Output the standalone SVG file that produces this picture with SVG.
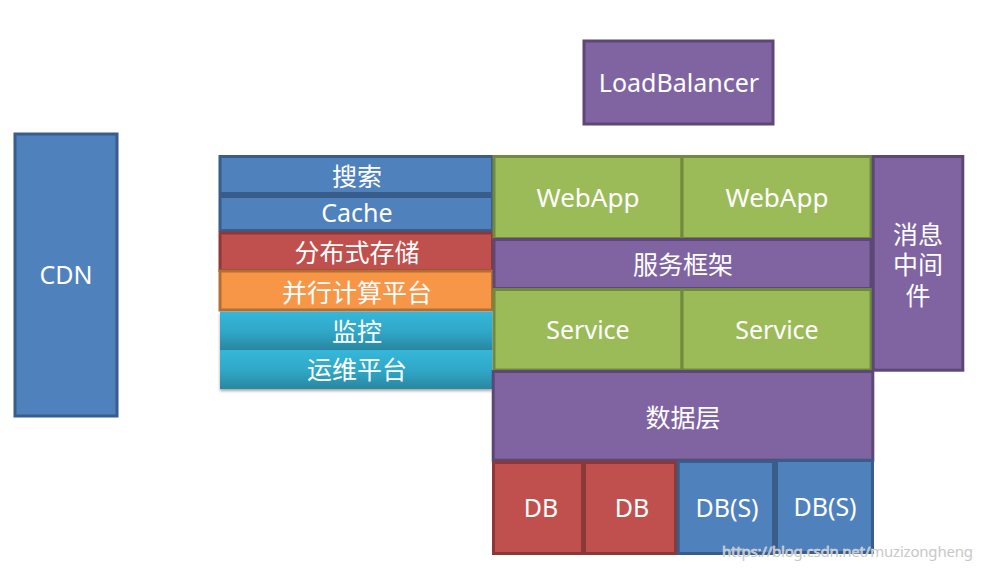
<svg xmlns="http://www.w3.org/2000/svg" width="982" height="569" viewBox="0 0 982 569">
<style>
.b{fill:#4F81BD;stroke:#385D8A;stroke-width:3}
.r{fill:#C0504D;stroke:#8C3836;stroke-width:3}
.g{fill:#9BBB59;stroke:#71893F;stroke-width:3}
.p{fill:#8064A2;stroke:#5C4776;stroke-width:3}
.o{fill:#F79646;stroke:#B66D31;stroke-width:3}
.t{fill:url(#teal)}
text{font-family:"Noto Sans","Noto Sans CJK SC",sans-serif;font-size:25px;fill:#fff;text-anchor:middle}
.wm{font-size:15px;fill:#c8c8c8;text-anchor:start;stroke:#fff;stroke-width:0.5;paint-order:stroke}
</style>
<defs>
<linearGradient id="teal" x1="0" y1="0" x2="0" y2="1">
<stop offset="0" stop-color="#36B7DA"/>
<stop offset="0.55" stop-color="#2FA6C6"/>
<stop offset="1" stop-color="#2A87A0"/>
</linearGradient>
<filter id="sh" x="-5%" y="-10%" width="110%" height="130%">
<feDropShadow dx="0" dy="2" stdDeviation="1.5" flood-color="#000" flood-opacity="0.35"/>
</filter>
</defs>
<g id="cdn"><rect class="b" x="15" y="134" width="102" height="282"/><text x="66" y="284">CDN</text></g>
<g id="loadbalancer"><rect class="p" x="584" y="41" width="189" height="83"/><text x="679" y="92">LoadBalancer</text></g>
<g id="search"><rect class="b" x="220" y="156.5" width="272.5" height="37"/><text x="357" y="185.5">搜索</text></g>
<g id="cache"><rect class="b" x="220" y="196.5" width="272.5" height="34"/><text x="357" y="222">Cache</text></g>
<g id="dist-storage"><rect class="r" x="220" y="233" width="272.5" height="37.5"/><text x="357" y="262">分布式存储</text></g>
<g id="parallel"><rect class="o" x="220" y="271" width="272.5" height="39"/><text x="357" y="302">并行计算平台</text></g>
<g id="monitor"><rect class="t" x="220" y="311.5" width="272.5" height="38.5" filter="url(#sh)"/><text x="357" y="340.5">监控</text></g>
<g id="ops"><rect class="t" x="220" y="350" width="272.5" height="39" filter="url(#sh)"/><text x="357" y="379">运维平台</text></g>
<g id="webapp1"><rect class="g" x="494" y="156.5" width="188" height="82"/><text x="588" y="207" style="font-size:26px">WebApp</text></g>
<g id="webapp2"><rect class="g" x="682" y="156.5" width="189" height="82"/><text x="777" y="207" style="font-size:26px">WebApp</text></g>
<g id="service-framework"><rect class="p" x="494" y="239.5" width="377" height="49"/><text x="683" y="274">服务框架</text></g>
<g id="service1"><rect class="g" x="494" y="289.5" width="188" height="80.5"/><text x="588" y="339">Service</text></g>
<g id="service2"><rect class="g" x="682" y="289.5" width="189" height="80.5"/><text x="777" y="339">Service</text></g>
<g id="mq"><rect class="p" x="873.2" y="156.5" width="89.6" height="213.7"/><text x="918" y="244">消息</text><text x="918" y="274">中间</text><text x="918" y="305">件</text></g>
<g id="data-layer"><rect class="p" x="493.2" y="371.5" width="379.6" height="88.7"/><text x="683" y="427">数据层</text></g>
<g id="db1"><rect class="r" x="493.5" y="462.5" width="89" height="91"/><text x="541" y="517">DB</text></g>
<g id="db2"><rect class="r" x="584.5" y="462.5" width="91" height="91"/><text x="632" y="517">DB</text></g>
<g id="dbs1"><rect class="b" x="678.2" y="461.5" width="95.3" height="92"/><text x="727" y="517">DB(S)</text></g>
<g id="dbs2"><rect class="b" x="776.5" y="460.5" width="96" height="92"/><text x="825" y="515.5">DB(S)</text></g>
<g id="connectors"></g>
<text class="wm" x="722" y="557" textLength="251">https://blog.csdn.net/muzizongheng</text>
</svg>
